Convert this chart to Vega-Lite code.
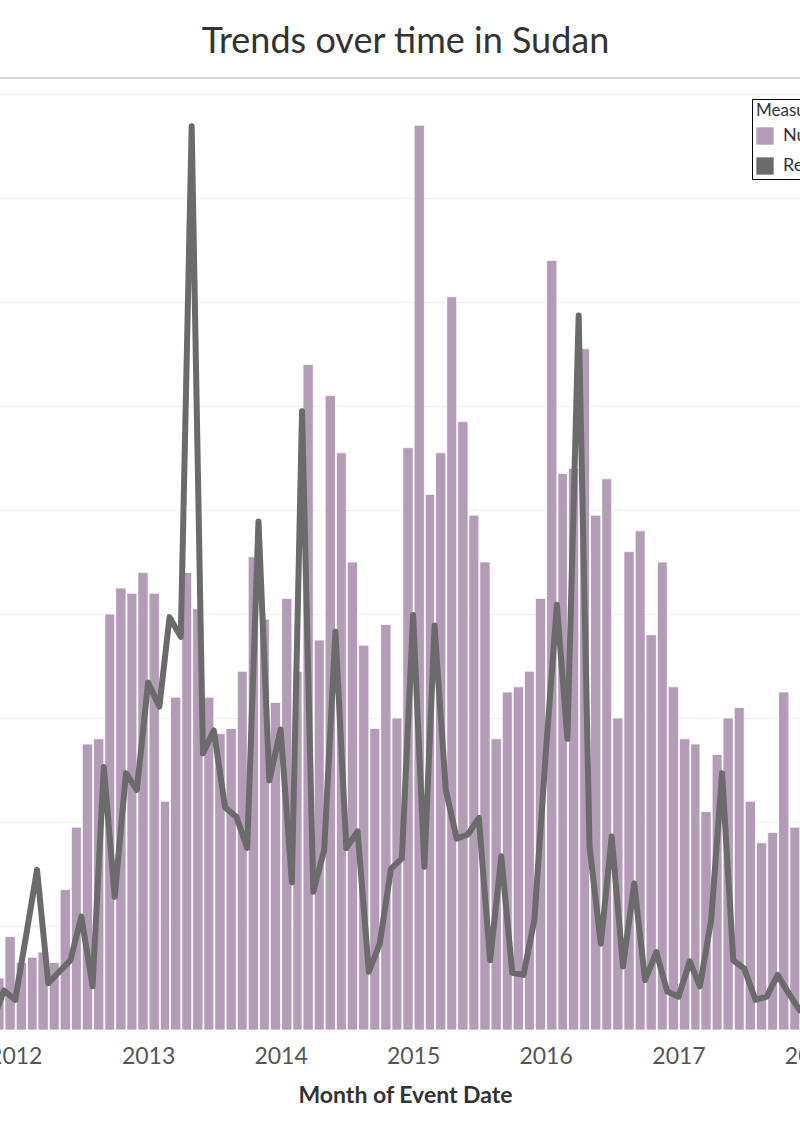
{
  "$schema": "https://vega.github.io/schema/vega-lite/v6.json",
  "autosize": "none",
  "width": 811,
  "height": 952,
  "padding": {"left": 0, "top": 78, "right": 0, "bottom": 108},
  "background": "white",
  "config": {"view": {"stroke": null}, "font": "Lato"},
  "title": {"text": "Trends over time in Sudan", "fontSize": 36, "font": "Lato", "fontWeight": "normal", "color": "#333333", "baseline": "alphabetic", "offset": 20, "anchor": "middle", "dx": 0, "dy": 32},
  "data": {"values": [
    {"m": "2011-11-01", "events": 10, "fatalities": 10},
    {"m": "2011-12-01", "events": 18, "fatalities": 38},
    {"m": "2012-01-01", "events": 13, "fatalities": 29},
    {"m": "2012-02-01", "events": 14, "fatalities": 93},
    {"m": "2012-03-01", "events": 15, "fatalities": 154},
    {"m": "2012-04-01", "events": 13, "fatalities": 45},
    {"m": "2012-05-01", "events": 27, "fatalities": 56},
    {"m": "2012-06-01", "events": 39, "fatalities": 67},
    {"m": "2012-07-01", "events": 55, "fatalities": 109},
    {"m": "2012-08-01", "events": 56, "fatalities": 42},
    {"m": "2012-09-01", "events": 80, "fatalities": 253},
    {"m": "2012-10-01", "events": 85, "fatalities": 128},
    {"m": "2012-11-01", "events": 84, "fatalities": 247},
    {"m": "2012-12-01", "events": 88, "fatalities": 231},
    {"m": "2013-01-01", "events": 84, "fatalities": 334},
    {"m": "2013-02-01", "events": 44, "fatalities": 311},
    {"m": "2013-03-01", "events": 64, "fatalities": 397},
    {"m": "2013-04-01", "events": 88, "fatalities": 378},
    {"m": "2013-05-01", "events": 81, "fatalities": 869},
    {"m": "2013-06-01", "events": 64, "fatalities": 266},
    {"m": "2013-07-01", "events": 57, "fatalities": 288},
    {"m": "2013-08-01", "events": 58, "fatalities": 214},
    {"m": "2013-09-01", "events": 69, "fatalities": 205},
    {"m": "2013-10-01", "events": 91, "fatalities": 175},
    {"m": "2013-11-01", "events": 79, "fatalities": 489},
    {"m": "2013-12-01", "events": 63, "fatalities": 240},
    {"m": "2014-01-01", "events": 83, "fatalities": 289},
    {"m": "2014-02-01", "events": 69, "fatalities": 142},
    {"m": "2014-03-01", "events": 128, "fatalities": 595},
    {"m": "2014-04-01", "events": 75, "fatalities": 133},
    {"m": "2014-05-01", "events": 122, "fatalities": 173},
    {"m": "2014-06-01", "events": 111, "fatalities": 383},
    {"m": "2014-07-01", "events": 90, "fatalities": 175},
    {"m": "2014-08-01", "events": 74, "fatalities": 191},
    {"m": "2014-09-01", "events": 58, "fatalities": 56},
    {"m": "2014-10-01", "events": 78, "fatalities": 83},
    {"m": "2014-11-01", "events": 60, "fatalities": 155},
    {"m": "2014-12-01", "events": 112, "fatalities": 165},
    {"m": "2015-01-01", "events": 174, "fatalities": 399},
    {"m": "2015-02-01", "events": 103, "fatalities": 157},
    {"m": "2015-03-01", "events": 111, "fatalities": 389},
    {"m": "2015-04-01", "events": 141, "fatalities": 231},
    {"m": "2015-05-01", "events": 117, "fatalities": 184},
    {"m": "2015-06-01", "events": 99, "fatalities": 188},
    {"m": "2015-07-01", "events": 90, "fatalities": 204},
    {"m": "2015-08-01", "events": 56, "fatalities": 67},
    {"m": "2015-09-01", "events": 65, "fatalities": 167},
    {"m": "2015-10-01", "events": 66, "fatalities": 55},
    {"m": "2015-11-01", "events": 69, "fatalities": 53},
    {"m": "2015-12-01", "events": 83, "fatalities": 106},
    {"m": "2016-01-01", "events": 148, "fatalities": 264},
    {"m": "2016-02-01", "events": 107, "fatalities": 409},
    {"m": "2016-03-01", "events": 108, "fatalities": 280},
    {"m": "2016-04-01", "events": 131, "fatalities": 687},
    {"m": "2016-05-01", "events": 99, "fatalities": 176},
    {"m": "2016-06-01", "events": 106, "fatalities": 83},
    {"m": "2016-07-01", "events": 60, "fatalities": 186},
    {"m": "2016-08-01", "events": 92, "fatalities": 61},
    {"m": "2016-09-01", "events": 96, "fatalities": 141},
    {"m": "2016-10-01", "events": 76, "fatalities": 48},
    {"m": "2016-11-01", "events": 90, "fatalities": 75},
    {"m": "2016-12-01", "events": 66, "fatalities": 37},
    {"m": "2017-01-01", "events": 56, "fatalities": 32},
    {"m": "2017-02-01", "events": 55, "fatalities": 66},
    {"m": "2017-03-01", "events": 42, "fatalities": 42},
    {"m": "2017-04-01", "events": 53, "fatalities": 106},
    {"m": "2017-05-01", "events": 60, "fatalities": 247},
    {"m": "2017-06-01", "events": 62, "fatalities": 67},
    {"m": "2017-07-01", "events": 44, "fatalities": 59},
    {"m": "2017-08-01", "events": 36, "fatalities": 29},
    {"m": "2017-09-01", "events": 38, "fatalities": 32},
    {"m": "2017-10-01", "events": 65, "fatalities": 53},
    {"m": "2017-11-01", "events": 39, "fatalities": 35},
    {"m": "2017-12-01", "events": 42, "fatalities": 19}
  ]},
  "layer": [
    {
      "mark": {"type": "bar", "stroke": "#ffffff", "strokeWidth": 0.9, "strokeOpacity": 0.85, "clip": true},
      "encoding": {
        "x": {
          "field": "m", "timeUnit": "utcyearmonth", "type": "temporal",
          "scale": {"type": "utc", "domain": [{"year": 2011, "month": 11, "date": 20, "utc": true}, {"year": 2018, "month": 1, "date": 1, "utc": true}]},
          "axis": {
            "values": [
              {"year": 2012, "month": 1, "date": 1, "utc": true},
              {"year": 2013, "month": 1, "date": 1, "utc": true},
              {"year": 2014, "month": 1, "date": 1, "utc": true},
              {"year": 2015, "month": 1, "date": 1, "utc": true},
              {"year": 2016, "month": 1, "date": 1, "utc": true},
              {"year": 2017, "month": 1, "date": 1, "utc": true},
              {"year": 2018, "month": 1, "date": 1, "utc": true}
            ],
            "labelExpr": "utcFormat(datum.value, '%Y')",
            "labelFont": "Lato", "labelFontSize": 23, "labelColor": "#555555",
            "labelFlush": false, "labelOverlap": false, "labelBound": false,
            "ticks": false, "tickSize": 0, "domain": false, "grid": false,
            "labelPadding": 15,
            "title": "Month of Event Date", "titleFont": "Lato", "titleFontSize": 23, "titleFontWeight": "bold", "titleColor": "#333333", "titlePadding": 16, "titleX": 405
          }
        },
        "y": {
          "field": "events", "type": "quantitative",
          "scale": {"domain": [0, 183.08], "nice": false, "zero": true},
          "axis": {"values": [20, 40, 60, 80, 100, 120, 140, 160, 180], "grid": true, "gridColor": "#eeeeee", "gridWidth": 1, "labels": false, "ticks": false, "domain": false, "title": null}
        },
        "color": {
          "datum": "Number of Events",
          "scale": {"domain": ["Number of Events", "Reported Fatalities"], "range": ["#b39db6", "#6b6b6b"]},
          "legend": {
            "orient": "none", "legendX": 752, "legendY": 21,
            "title": "Measure Names", "titleFont": "Lato", "titleFontSize": 17, "titleFontWeight": "normal", "titleColor": "#333333", "titlePadding": 7,
            "labelFont": "Lato", "labelFontSize": 18, "labelColor": "#333333", "labelOffset": 9,
            "symbolType": "square", "symbolSize": 300, "symbolStrokeWidth": 0, "rowPadding": 12,
            "padding": 4, "strokeColor": "#000000", "fillColor": "#ffffff"
          }
        }
      }
    },
    {
      "mark": {"type": "rule", "color": "#d6d6d6", "strokeWidth": 1.5},
      "encoding": {
        "y": {"datum": 183.08, "type": "quantitative", "scale": {"domain": [0, 183.08], "nice": false}, "axis": null}
      }
    },
    {
      "mark": {"type": "line", "color": "#6b6b6b", "strokeWidth": 6, "strokeJoin": "round", "strokeCap": "round", "clip": true},
      "encoding": {
        "x": {"field": "m", "type": "temporal"},
        "y": {"field": "fatalities", "type": "quantitative", "scale": {"domain": [0, 915.38], "nice": false, "zero": true}, "axis": null}
      }
    }
  ],
  "resolve": {"scale": {"y": "independent"}}
}
